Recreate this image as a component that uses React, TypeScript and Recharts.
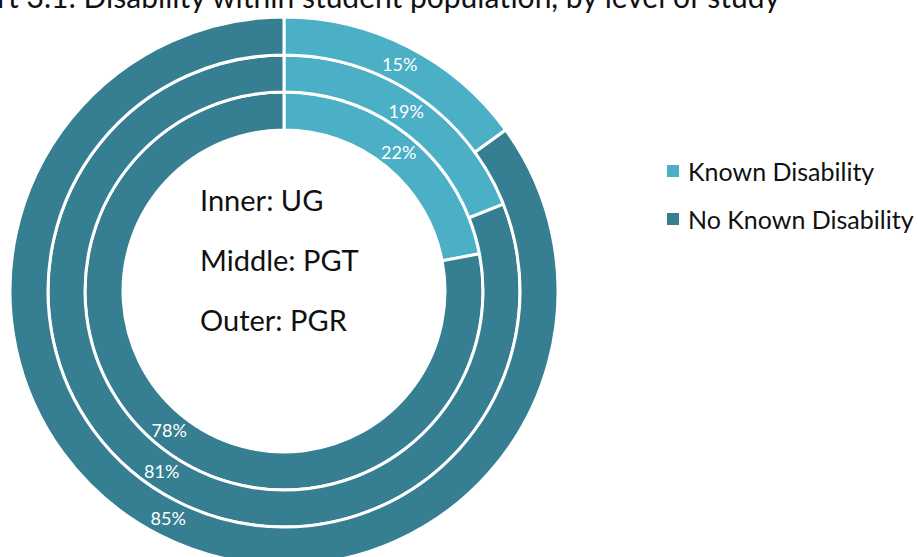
import { PieChart, Pie, Cell, Legend } from 'recharts';

const levels = ['UG', 'PGT', 'PGR'];
const ringNames = ['Inner', 'Middle', 'Outer'];
const knownDisability = [22, 19, 15];
const noKnownDisability = [78, 81, 85];
const seriesNames = ['Known Disability', 'No Known Disability'];
const COLORS = ['#4BAFC6', '#367F92'];

const RINGS = [
  { inner: 161, outer: 199 },
  { inner: 199, outer: 236 },
  { inner: 236, outer: 274 },
];

const RAD = Math.PI / 180;

const renderLabel = (props: any) => {
  const { cx, cy, midAngle, innerRadius, outerRadius, value } = props;
  const r = (innerRadius + outerRadius) / 2;
  const x = cx + r * Math.cos(-midAngle * RAD);
  const y = cy + r * Math.sin(-midAngle * RAD);
  return (
    <text x={x} y={y} fill="#fff" fontSize={18} textAnchor="middle" dominantBaseline="central">
      {`${value}%`}
    </text>
  );
};

const LegendContent = () => (
  <div>
    {seriesNames.map((name, i) => (
      <div key={name} style={{ display: 'flex', alignItems: 'center', height: 48 }}>
        <span style={{ width: 12, height: 12, background: COLORS[i], marginRight: 9, display: 'inline-block' }} />
        <span style={{ fontSize: 25, color: '#111' }}>{name}</span>
      </div>
    ))}
  </div>
);

export default function App() {
  const ringData = levels.map((level, i) => [
    { name: seriesNames[0], value: knownDisability[i], key: `${level}-k` },
    { name: seriesNames[1], value: noKnownDisability[i], key: `${level}-n` },
  ]);

  return (
    <div style={{ position: 'fixed', left: 0, top: 0, width: 918, height: 557, overflow: 'hidden', background: '#fff', fontFamily: 'Lato, sans-serif' }}>
      <PieChart width={918} height={557}>
        {ringData.map((data, i) => (
          <Pie
            key={levels[i]}
            data={data}
            dataKey="value"
            cx={279}
            cy={286}
            innerRadius={RINGS[i].inner}
            outerRadius={RINGS[i].outer}
            startAngle={90}
            endAngle={-270}
            stroke="#fff"
            strokeWidth={3}
            label={renderLabel}
            labelLine={false}
            isAnimationActive={false}
          >
            {data.map((entry, j) => (
              <Cell key={entry.key} fill={COLORS[j]} />
            ))}
          </Pie>
        ))}
        <Legend
          layout="vertical"
          content={<LegendContent />}
          wrapperStyle={{ left: 667, top: 147, width: 260 }}
        />
      </PieChart>
      <div style={{ position: 'absolute', right: 138, top: -22, fontSize: 30, whiteSpace: 'nowrap', color: '#111' }}>
        Chart 3.1: Disability within student population, by level of study
      </div>
      <div style={{ position: 'absolute', left: 200, top: 170, fontSize: 29, color: '#111', lineHeight: '60px' }}>
        {levels.map((level, i) => (
          <div key={level}>{`${ringNames[i]}: ${level}`}</div>
        ))}
      </div>
    </div>
  );
}
